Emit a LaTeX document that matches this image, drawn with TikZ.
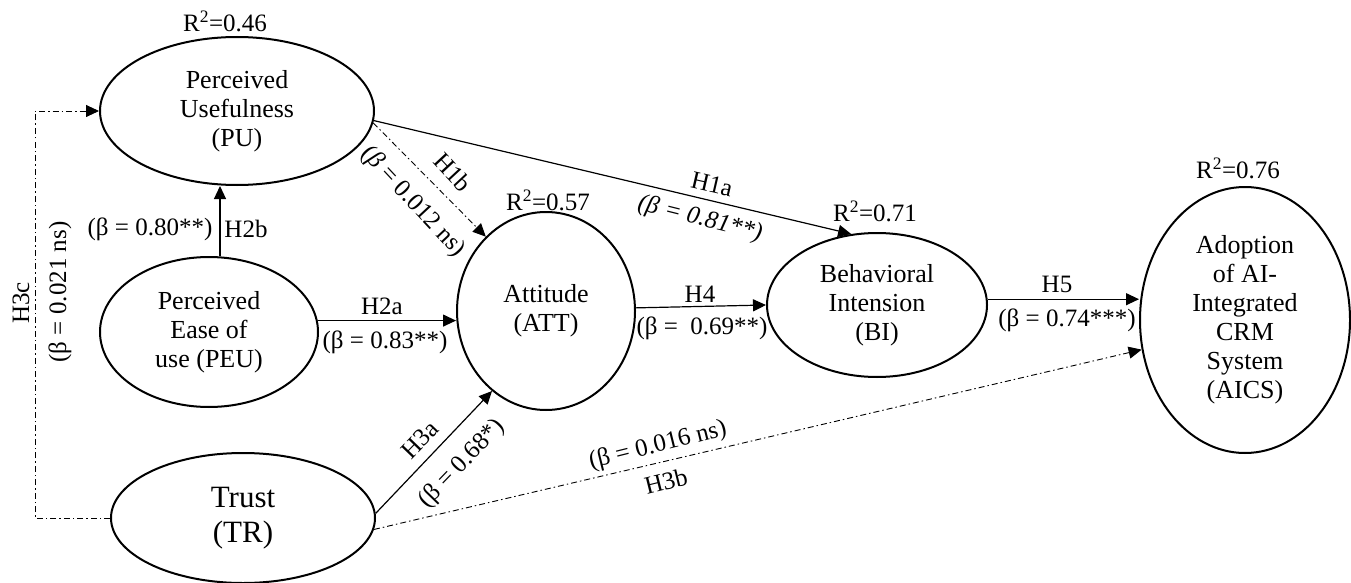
\documentclass[tikz,border=0pt]{standalone}
\usepackage{fontspec}
\setmainfont{Liberation Serif}
\usetikzlibrary{shapes.geometric,arrows.meta}
\begin{document}
\begin{tikzpicture}[x=1pt,y=-1pt,
  lv/.style={ellipse,draw,line width=2pt,inner sep=0pt,align=center,font=\fontsize{26}{29}\selectfont},
  arr/.style={line width=1.2pt,-{Triangle[length=13pt,width=12pt]}},
  dd/.style={line width=0.9pt,dash pattern=on 6pt off 3pt on 1.5pt off 3pt},
  dda/.style={dd,-{Triangle[length=13pt,width=12pt]}},
  lab/.style={font=\fontsize{25}{28}\selectfont,inner sep=0pt},
]
\useasboundingbox (0,0) rectangle (1351,583);

% latent variables
\node[lv,minimum width=274pt,minimum height=148pt] (PU) at (237,111) {Perceived\\Usefulness\\(PU)};
\node[lv,minimum width=218pt,minimum height=150pt] (PEU) at (209,332) {Perceived\\Ease of\\use (PEU)};
\node[lv,minimum width=264pt,minimum height=130pt,font=\fontsize{31}{35}\selectfont] (TR) at (243,518) {Trust\\(TR)};
\node[lv,minimum width=178pt,minimum height=198pt] (ATT) at (546,311) {Attitude\\(ATT)};
\node[lv,minimum width=220pt,minimum height=144pt] (BI) at (877,305) {Behavioral\\Intension\\(BI)};
\node[lv,minimum width=210pt,minimum height=266pt] (AICS) at (1245,320) {Adoption\\of AI-\\Integrated\\CRM\\System\\(AICS)};

% R squared
\node[lab] (r1) at (225,21) {R\textsuperscript{2}=0.46};
\node[lab] (r2) at (548,200) {R\textsuperscript{2}=0.57};
\node[lab] (r3) at (875,211) {R\textsuperscript{2}=0.71};
\node[lab] (r4) at (1238,168) {R\textsuperscript{2}=0.76};

% connectors
\draw[arr] ([xshift=11pt]PEU.north) -- ([xshift=11pt]PEU.north |- PU.south);
\draw[arr] (PEU.6) -- (PEU.6 -| ATT.west);
\draw[arr] (ATT.2) -- (BI.west);
\draw[arr] (BI.3) -- (BI.3 -| AICS.west);
\draw[arr] (PU.-4) -- (BI.110);
\draw[dda] (PU.-5) -- (ATT.129);
\draw[arr] (TR.2) -- (ATT.236);
\draw[dda] (TR.-5) -- (AICS.196);
\draw[dda] (TR.west) -- ++(-75,0) |- (PU.west);

% labels
\node[lab] (l2b) at (246,229) {H2b};
\node[lab] (b2b) at (150,229) {(β = 0.80**)};
\node[lab] (l2a) at (382,306) {H2a};
\node[lab] (b2a) at (385,342) {(β = 0.83**)};
\node[lab] (l4) at (700,294) {H4};
\node[lab] (b4) at (702,328) {(β =~~0.69**)};
\node[lab] (l5) at (1057,284) {H5};
\node[lab] (b5) at (1067,320) {(β = 0.74***)};
\node[lab,rotate=-13] (l1a) at (712,184) {H1a};
\node[lab,rotate=-14] (b1a) at (700,219) {\itshape(β = 0.81**)};
\node[lab,rotate=-47] (l1b) at (453,172) {H1b};
\node[lab,rotate=-47] (b1b) at (413,202) {(\textit{β} = 0.012 ns)};
\node[lab,rotate=46] (l3a) at (420,440) {H3a};
\node[lab,rotate=46] (b3a) at (462,464) {(β = 0.68*)};
\node[lab,rotate=14] (b3b) at (658,446) {(β = 0.016 ns)};
\node[lab,rotate=14] (l3b) at (666,481) {H3b};
\node[lab,rotate=90] (l3c) at (21,303) {H3c};
\node[lab,rotate=90] (b3c) at (60,292) {(β = 0.021 ns)};
\end{tikzpicture}
\end{document}
